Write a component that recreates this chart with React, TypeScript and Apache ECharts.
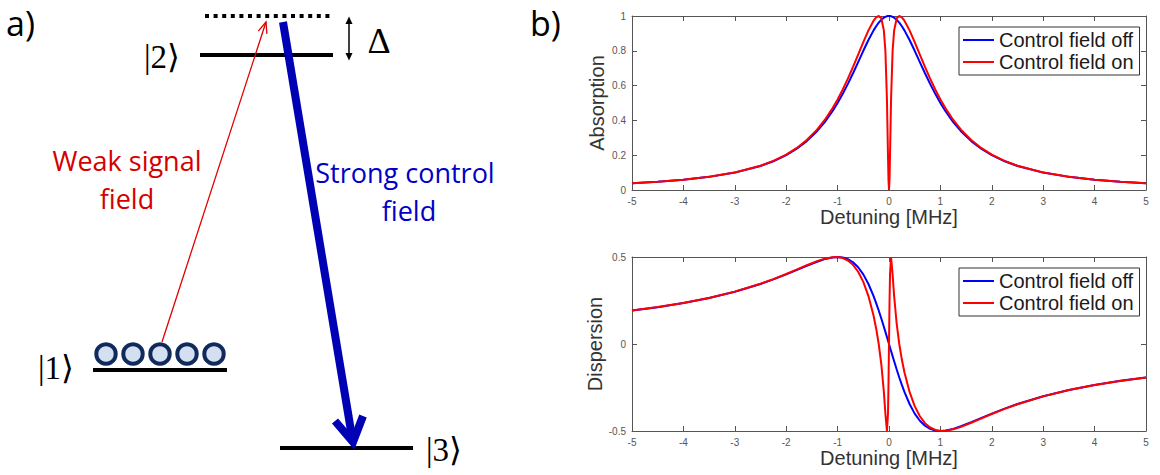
import React, { useEffect, useRef } from "react";
import * as echarts from "echarts";

// Detuning axis samples [MHz]
const detuning = [-5,-4.5,-4,-3.5,-3,-2.5,-2.25,-2,-1.8,-1.6,-1.4,-1.25,-1.1,-1,-0.9,-0.8,-0.7,-0.6,-0.5,-0.4,-0.3,-0.25,-0.2,-0.15,-0.1,-0.07,-0.04,-0.02,-0.01,0,0.01,0.02,0.04,0.07,0.1,0.15,0.2,0.25,0.3,0.4,0.5,0.6,0.7,0.8,0.9,1,1.1,1.25,1.4,1.6,1.8,2,2.25,2.5,3,3.5,4,4.5,5];

const absorptionOff = [0.0385,0.0471,0.0588,0.0755,0.1,0.1379,0.1649,0.2,0.2358,0.2809,0.3378,0.3902,0.4525,0.5,0.5525,0.6098,0.6711,0.7353,0.8,0.8621,0.9174,0.9412,0.9615,0.978,0.9901,0.9951,0.9984,0.9996,0.9999,1,0.9999,0.9996,0.9984,0.9951,0.9901,0.978,0.9615,0.9412,0.9174,0.8621,0.8,0.7353,0.6711,0.6098,0.5525,0.5,0.4525,0.3902,0.3378,0.2809,0.2358,0.2,0.1649,0.1379,0.1,0.0755,0.0588,0.0471,0.0385];

const absorptionOn = [0.0386,0.0472,0.0591,0.0759,0.1008,0.1395,0.1671,0.2032,0.2404,0.2873,0.3471,0.4027,0.4692,0.5204,0.5774,0.64,0.7076,0.7786,0.8501,0.9174,0.973,0.992,1,0.9866,0.9174,0.7991,0.5204,0.2032,0.0591,0,0.0591,0.2032,0.5204,0.7991,0.9174,0.9866,1,0.992,0.973,0.9174,0.8501,0.7786,0.7076,0.64,0.5774,0.5204,0.4692,0.4027,0.3471,0.2873,0.2404,0.2032,0.1671,0.1395,0.1008,0.0759,0.0591,0.0472,0.0386];

const dispersionOff = [0.1923,0.2118,0.2353,0.2642,0.3,0.3448,0.3711,0.4,0.4245,0.4494,0.4729,0.4878,0.4977,0.5,0.4972,0.4878,0.4698,0.4412,0.4,0.3448,0.2752,0.2353,0.1923,0.1467,0.099,0.0697,0.0399,0.02,0.01,0,-0.01,-0.02,-0.0399,-0.0697,-0.099,-0.1467,-0.1923,-0.2353,-0.2752,-0.3448,-0.4,-0.4412,-0.4698,-0.4878,-0.4972,-0.5,-0.4977,-0.4878,-0.4729,-0.4494,-0.4245,-0.4,-0.3711,-0.3448,-0.3,-0.2642,-0.2353,-0.2118,-0.1923];

const dispersionOn = [0.1926,0.2122,0.2358,0.2649,0.3011,0.3464,0.3731,0.4024,0.4273,0.4525,0.4761,0.4904,0.499,0.4996,0.494,0.48,0.4549,0.4152,0.357,0.2752,0.1622,0.0893,0,-0.1151,-0.2752,-0.4007,-0.4996,-0.4024,-0.2358,0,0.2358,0.4024,0.4996,0.4007,0.2752,0.1151,0,-0.0893,-0.1622,-0.2752,-0.357,-0.4152,-0.4549,-0.48,-0.494,-0.4996,-0.499,-0.4904,-0.4761,-0.4525,-0.4273,-0.4024,-0.3731,-0.3464,-0.3011,-0.2649,-0.2358,-0.2122,-0.1926];

const seriesNames = ["Control field off", "Control field on"];
const panelLabels = ["Absorption", "Dispersion"];
const xTitle = "Detuning [MHz]";

const SANS = "'Liberation Sans', Arial, Helvetica, sans-serif";
const DIAG = "'Open Sans', Lato, sans-serif";
const SERIF = "'Liberation Serif', 'DejaVu Serif', serif";

const AX = "#555";

function pairs(ys: number[]) {
  return detuning.map((x, i) => [x, ys[i]]);
}

function mkX(gridIndex: number, position: string, labels: boolean) {
  return {
    type: "value",
    gridIndex,
    position,
    min: -5,
    max: 5,
    interval: 1,
    axisLine: { show: true, onZero: false, lineStyle: { color: AX, width: 1 } },
    axisTick: { show: true, inside: true, length: 5, lineStyle: { color: AX } },
    axisLabel: { show: labels, fontSize: 10, color: AX, margin: 6, showMinLabel: true, showMaxLabel: true, fontFamily: SANS },
    splitLine: { show: false },
    name: labels ? xTitle : "",
    nameLocation: "middle",
    nameGap: 15,
    nameTextStyle: { fontSize: 20, color: "#333", fontFamily: SANS },
  };
}

function mkY(gridIndex: number, position: string, labels: boolean, min: number, max: number, interval: number, name: string) {
  return {
    type: "value",
    gridIndex,
    position,
    min,
    max,
    interval,
    axisLine: { show: true, onZero: false, lineStyle: { color: AX, width: 1 } },
    axisTick: { show: true, inside: true, length: 5, lineStyle: { color: AX } },
    axisLabel: { show: labels, fontSize: 10, color: AX, margin: 6, showMinLabel: true, showMaxLabel: true, fontFamily: SANS },
    splitLine: { show: false },
    name: labels ? name : "",
    nameLocation: "middle",
    nameRotate: 90,
    nameGap: 25,
    nameTextStyle: { fontSize: 20, color: "#333", fontFamily: SANS },
  };
}

function txt(text: string, x: number, y: number, size: number, fill: string, family: string, align = "left") {
  return {
    type: "text",
    style: {
      text, x, y, fill,
      fontSize: size,
      fontFamily: family,
      align, verticalAlign: "middle",
      textAlign: align, textVerticalAlign: "middle",
    },
  };
}

function hline(x1: number, x2: number, y: number, width = 4, dash?: number[]) {
  return {
    type: "line",
    shape: { x1, y1: y, x2, y2: y },
    style: { stroke: "#000", lineWidth: width, lineDash: dash },
  };
}

export default function App() {
  const ref = useRef<HTMLDivElement>(null);
  useEffect(() => {
    if (!ref.current) return;
    const chart = echarts.init(ref.current, null, { renderer: "svg" });
    const circleXs = [106, 133, 160, 187, 214];
    const graphic: any[] = [
      txt("a)", 6, 23, 34, "#000", DIAG),
      txt("b)", 530, 23, 34, "#000", DIAG),
      hline(205, 333, 16, 4, [4, 4.6]),
      hline(200, 333, 55),
      hline(93, 227, 370),
      hline(280, 413, 448),
      txt("|2\u27E9", 162, 57, 33, "#000", SERIF, "center"),
      txt("|1\u27E9", 56, 368, 33, "#000", SERIF, "center"),
      txt("|3\u27E9", 444, 450, 33, "#000", SERIF, "center"),
      ...circleXs.map((cx) => ({
        type: "circle",
        shape: { cx, cy: 354, r: 9.7 },
        style: { fill: "#d5dff2", stroke: "#0f2a5b", lineWidth: 4 },
      })),
      // weak signal arrow
      { type: "line", shape: { x1: 162, y1: 342, x2: 266, y2: 22 }, style: { stroke: "#e00000", lineWidth: 1.3 } },
      { type: "polyline", shape: { points: [[258.3, 31.1], [266, 22], [266.9, 33.9]] }, style: { stroke: "#e00000", lineWidth: 1.3, fill: "none" } },
      // strong control arrow
      { type: "line", shape: { x1: 283, y1: 22, x2: 352.5, y2: 440 }, style: { stroke: "#0000b4", lineWidth: 8 } },
      { type: "polyline", shape: { points: [[335, 421], [353, 442], [363, 416]] }, style: { stroke: "#0000b4", lineWidth: 8, fill: "none", lineJoin: "miter" } },
      // detuning arrow
      { type: "line", shape: { x1: 349, y1: 22, x2: 349, y2: 55 }, style: { stroke: "#000", lineWidth: 1.5 } },
      { type: "polygon", shape: { points: [[345.5, 24], [349, 16.5], [352.5, 24]] }, style: { fill: "#000" } },
      { type: "polygon", shape: { points: [[345.5, 53], [349, 60.5], [352.5, 53]] }, style: { fill: "#000" } },
      txt("\u0394", 379, 41, 36, "#000", SERIF, "center"),
      txt("Weak signal", 127, 160, 27, "#d40000", DIAG, "center"),
      txt("field", 127, 198, 27, "#d40000", DIAG, "center"),
      txt("Strong control", 405, 172, 27, "#0000c8", DIAG, "center"),
      txt("field", 409, 210, 27, "#0000c8", DIAG, "center"),
    ];

    const legendBase = {
      orient: "vertical",
      left: 959,
      data: seriesNames,
      icon: "rect",
      itemWidth: 31,
      itemHeight: 2,
      itemGap: 2,
      padding: [3, 6, 3, 4],
      borderColor: "#333",
      borderWidth: 1,
      borderRadius: 0,
      backgroundColor: "#fff",
      selectedMode: false,
      textStyle: { fontSize: 20, color: "#1a1a1a", fontFamily: SANS },
    };

    const lineSeries = (name: string, data: number[], color: string, idx: number) => ({
      type: "line",
      name,
      xAxisIndex: idx * 2,
      yAxisIndex: idx * 2,
      data: pairs(data),
      showSymbol: false,
      symbol: "none",
      smooth: false,
      clip: true,
      lineStyle: { color, width: 2 },
      itemStyle: { color },
      z: color === "#ff0000" ? 3 : 2,
    });

    chart.setOption({
      animation: false,
      backgroundColor: "#fff",
      textStyle: { fontFamily: SANS },
      grid: [
        { left: 632, top: 16, width: 514, height: 174, show: false },
        { left: 632, top: 257, width: 514, height: 174, show: false },
      ],
      xAxis: [mkX(0, "bottom", true), mkX(0, "top", false), mkX(1, "bottom", true), mkX(1, "top", false)],
      yAxis: [
        mkY(0, "left", true, 0, 1, 0.2, panelLabels[0]),
        mkY(0, "right", false, 0, 1, 0.2, ""),
        mkY(1, "left", true, -0.5, 0.5, 0.5, panelLabels[1]),
        mkY(1, "right", false, -0.5, 0.5, 0.5, ""),
      ],
      legend: [
        { ...legendBase, top: 27 },
        { ...legendBase, top: 268 },
      ],
      series: [
        lineSeries(seriesNames[0], absorptionOff, "#0000ff", 0),
        lineSeries(seriesNames[1], absorptionOn, "#ff0000", 0),
        lineSeries(seriesNames[0], dispersionOff, "#0000ff", 1),
        lineSeries(seriesNames[1], dispersionOn, "#ff0000", 1),
      ],
      graphic,
    });
    return () => chart.dispose();
  }, []);
  return (
    <div
      ref={ref}
      style={{ position: "absolute", left: 0, top: 0, width: 1160, height: 475, background: "#fff" }}
    />
  );
}
